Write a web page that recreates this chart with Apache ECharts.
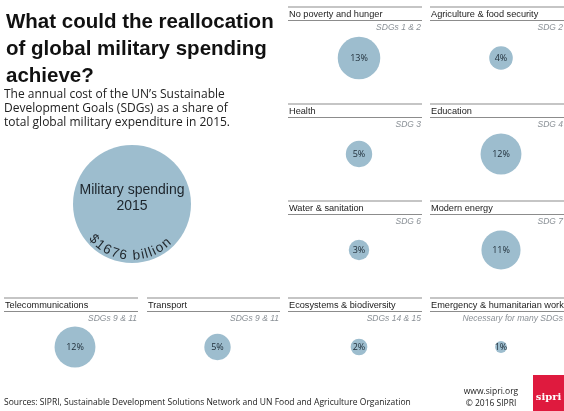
<!DOCTYPE html>
<html><head><meta charset="utf-8">
<script src="https://cdn.jsdelivr.net/npm/echarts@6/dist/echarts.min.js"></script>
<style>html,body{margin:0;padding:0;background:#fff}#c{width:564px;height:411px}</style>
</head><body><div id="c"></div>
<script>
// ---- data ----
const categories = ['No poverty and hunger', 'Agriculture & food security', 'Health', 'Education',
  'Water & sanitation', 'Modern energy', 'Telecommunications', 'Transport',
  'Ecosystems & biodiversity', 'Emergency & humanitarian work'];
const sdgLabels = ['SDGs 1 & 2', 'SDG 2', 'SDG 3', 'SDG 4', 'SDG 6', 'SDG 7',
  'SDGs 9 & 11', 'SDGs 9 & 11', 'SDGs 14 & 15', 'Necessary for many SDGs'];
const shares = [13, 4, 5, 12, 3, 11, 12, 5, 2, 1]; // % of military spending
const militaryCategory = 'Military spending\n2015';
const militaryShare = 100;
const militaryBillions = 1676;

// ---- layout ----
const panelBoxes = [
  {x0: 288, x1: 422, top: 7, cy: 58}, {x0: 430, x1: 564, top: 7, cy: 58},
  {x0: 288, x1: 422, top: 104, cy: 154}, {x0: 430, x1: 564, top: 104, cy: 154},
  {x0: 288, x1: 422, top: 201, cy: 250}, {x0: 430, x1: 564, top: 201, cy: 250},
  {x0: 4, x1: 138, top: 298, cy: 347}, {x0: 147, x1: 280, top: 298, cy: 347},
  {x0: 288, x1: 422, top: 298, cy: 347}, {x0: 430, x1: 564, top: 298, cy: 347}
];
const milCenter = {x: 132, y: 204};
const bubbleColor = '#9dbdce';
const sizeOf = v => 2 * 5.9 * Math.sqrt(v);
const SANS = '"Liberation Sans", Arial, sans-serif';
const OPEN = '"Open Sans", sans-serif';

const grids = [], xAxes = [], yAxes = [], series = [], graphics = [];
panelBoxes.forEach((b, i) => {
  const cx = (b.x0 + b.x1) / 2 + 4;
  grids.push({left: cx - 60, top: b.cy - 30, width: 120, height: 60});
  xAxes.push({gridIndex: i, type: 'category', data: [categories[i]], show: false});
  yAxes.push({gridIndex: i, type: 'category', data: [sdgLabels[i]], show: false});
  series.push({
    type: 'scatter', xAxisIndex: i, yAxisIndex: i,
    data: [[categories[i], sdgLabels[i], shares[i]]],
    symbolSize: v => sizeOf(v[2]),
    itemStyle: {color: bubbleColor, opacity: 1},
    label: {show: true, position: 'inside', formatter: p => p.value[2] + '%',
      fontSize: 9, fontFamily: OPEN, color: '#1d2b36'},
    silent: true
  });
  graphics.push({type: 'line', shape: {x1: b.x0, y1: b.top, x2: b.x1, y2: b.top},
    style: {stroke: '#8c8c8c', lineWidth: 1.2}});
  graphics.push({type: 'line', shape: {x1: b.x0, y1: b.top + 13.5, x2: b.x1, y2: b.top + 13.5},
    style: {stroke: '#8c8c8c', lineWidth: 1.2}});
  graphics.push({type: 'text', x: b.x0 + 1, y: b.top + 7,
    style: {text: categories[i], fontSize: 9.2, fontFamily: SANS, fill: '#222',
      align: 'left', verticalAlign: 'middle'}});
  graphics.push({type: 'text', x: b.x1 - 1, y: b.top + 20.5,
    style: {text: sdgLabels[i], fontSize: 8.5, fontStyle: 'italic', fontFamily: SANS, fill: '#8a9096',
      align: 'right', verticalAlign: 'middle'}});
});

// Military spending bubble
const mi = panelBoxes.length;
grids.push({left: milCenter.x - 60, top: milCenter.y - 60, width: 120, height: 120});
xAxes.push({gridIndex: mi, type: 'category', data: [militaryCategory], show: false});
yAxes.push({gridIndex: mi, type: 'category', data: ['2015'], show: false});
series.push({
  type: 'scatter', xAxisIndex: mi, yAxisIndex: mi,
  data: [[militaryCategory, '2015', militaryShare]],
  symbolSize: v => sizeOf(v[2]),
  itemStyle: {color: bubbleColor, opacity: 1},
  label: {show: true, position: 'inside', formatter: militaryCategory, offset: [0, -6],
    fontSize: 14, lineHeight: 16, fontFamily: SANS, color: '#1c242b'},
  silent: true
});

// curved "$1676 billion"
(function () {
  const txt = '$' + militaryBillions + ' billion';
  const fs = 13.5, spacing = 1, R = 52, centerDeg = -3;
  const ctx = document.createElement('canvas').getContext('2d');
  ctx.font = fs + 'px ' + SANS;
  const ws = [...txt].map(ch => ctx.measureText(ch).width);
  const L = ws.reduce((a, b) => a + b, 0) + spacing * (ws.length - 1);
  let s = centerDeg * Math.PI / 180 - L / (2 * R);
  let cum = 0;
  [...txt].forEach((ch, k) => {
    const phi = s + (cum + ws[k] / 2) / R;
    cum += ws[k] + spacing;
    graphics.push({type: 'text', z: 100, zlevel: 1, x: milCenter.x + R * Math.sin(phi), y: milCenter.y + R * Math.cos(phi),
      rotation: phi,
      style: {text: ch, fontSize: fs, fontFamily: SANS, fill: '#22292f', align: 'center', verticalAlign: 'middle'}});
  });
})();

// footer
graphics.push({type: 'text', x: 4, y: 403, style: {text: 'Sources: SIPRI, Sustainable Development Solutions Network and UN Food and Agriculture Organization',
  fontSize: 8.5, fontFamily: OPEN, fill: '#222', verticalAlign: 'middle'}});
graphics.push({type: 'text', x: 491, y: 392, style: {text: 'www.sipri.org', fontSize: 8.5, fontFamily: OPEN, fill: '#222', align: 'center', verticalAlign: 'middle'}});
graphics.push({type: 'text', x: 491, y: 404, style: {text: '\u00a9 2016 SIPRI', fontSize: 8.5, fontFamily: OPEN, fill: '#222', align: 'center', verticalAlign: 'middle'}});
graphics.push({type: 'rect', shape: {x: 533, y: 375, width: 31, height: 36}, style: {fill: '#df1a3e'}});
graphics.push({type: 'text', x: 548.5, y: 397, style: {text: 'sipri', fontSize: 10, fontWeight: 'bold', fontFamily: '"DejaVu Serif", "Liberation Serif", serif', fill: '#fff', align: 'center', verticalAlign: 'middle'}});

const chart = echarts.init(document.getElementById('c'), null, {renderer: 'canvas'});
chart.setOption({
  animation: false,
  backgroundColor: '#fff',
  title: [
    {text: 'What could the reallocation\nof global military spending\nachieve?', left: 6, top: 8.5, padding: 0,
      textStyle: {fontSize: 20.5, fontWeight: 'bold', fontFamily: SANS, lineHeight: 27, color: '#111'}},
    {text: 'The annual cost of the UN\u2019s Sustainable\nDevelopment Goals (SDGs) as a share of\ntotal global military expenditure in 2015.',
      left: 4, top: 88, padding: 0, textStyle: {fontSize: 12, fontWeight: 'normal', fontFamily: OPEN, lineHeight: 14, color: '#222'}}
  ],
  grid: grids, xAxis: xAxes, yAxis: yAxes, series: series, graphic: graphics
});
</script></body></html>
